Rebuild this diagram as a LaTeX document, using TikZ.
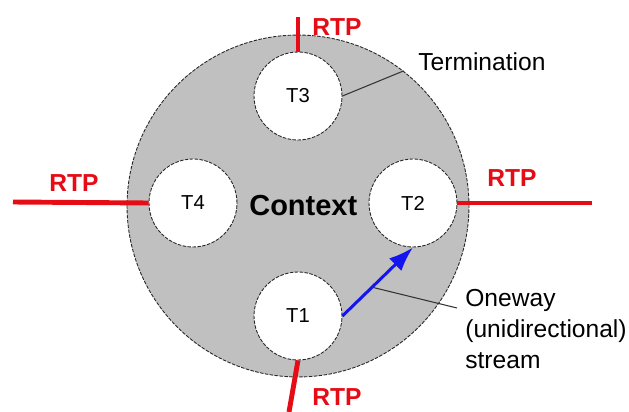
\documentclass[tikz,border=0pt]{standalone}
\usepackage{fontspec}
\setmainfont{Liberation Sans}
\usetikzlibrary{arrows.meta}

\definecolor{ctxgray}{RGB}{192,192,192}
\definecolor{rtpred}{RGB}{230,12,22}
\definecolor{flowblue}{RGB}{20,20,240}

\tikzstyle{ctxcircle}=[circle, draw=black!85, line width=0.5pt, dash pattern=on 2pt off 0.8pt, fill=ctxgray, minimum size=6.84cm, inner sep=0pt, font=\fontsize{16.5}{18}\selectfont\bfseries]
\tikzstyle{term}=[circle, draw=black!85, line width=0.5pt, dash pattern=on 2pt off 0.8pt, fill=white, minimum size=1.76cm, inner sep=0pt, font=\fontsize{11.5}{13}\selectfont]
\tikzstyle{rtpline}=[draw=rtpred, line width=2.8pt]
\tikzstyle{rtplabel}=[text=rtpred, font=\fontsize{14}{16}\selectfont\bfseries]
\tikzstyle{flow}=[draw=flowblue, line width=1.7pt, -{Latex[length=14pt, width=10pt]}]
\tikzstyle{leader}=[draw=black!80, line width=0.6pt]
\tikzstyle{note}=[anchor=west, inner sep=0pt, font=\fontsize{14}{17.6}\selectfont]

\begin{document}
\begin{tikzpicture}[x=0.02cm, y=-0.02cm]
\useasboundingbox (0,0) rectangle (629,412);

	% context with its four terminations
	\node (ctx) at (298,206) [ctxcircle] {\hspace{6pt}Context};
	\node (T3) at (298,96) [term] {T3};
	\node (T4) at (193,203) [term] {T4};
	\node (T2) at (413,203) [term] {T2};
	\node (T1) at (298,316) [term] {T1};

	% RTP streams leaving the context
	\coordinate (rtpN) at (298,17);
	\coordinate (rtpW) at (13,202);
	\coordinate (rtpE) at (592,203);
	\coordinate (rtpS) at (289,412);
	\draw[rtpline] (rtpN) -- (T3.north);
	\draw[rtpline] (rtpW) -- (T4.west);
	\draw[rtpline] (T2.east) -- (rtpE);
	\draw[rtpline] (T1.south) -- (rtpS);
	\node (rtpNlab) at (337,27) [rtplabel] {RTP};
	\node (rtpWlab) at (74,183) [rtplabel] {RTP};
	\node (rtpElab) at (512,178) [rtplabel] {RTP};
	\node (rtpSlab) at (337,397) [rtplabel] {RTP};

	% oneway stream T1 -> T2
	\draw[flow] (T1.east) -- (T2.south) coordinate[pos=0.42] (flowmid);

	% callouts
	\draw[leader] (T3.east) -- (ctx.52);
	\node (termlab) at (418,62) [note] {Termination};
	\coordinate (onewayend) at (457,308);
	\draw[leader] (flowmid) -- (onewayend);
	\node (onewaylab) at (465,289) [note, anchor=north west, align=left] {Oneway\\(unidirectional)\\stream};
\end{tikzpicture}
\end{document}
